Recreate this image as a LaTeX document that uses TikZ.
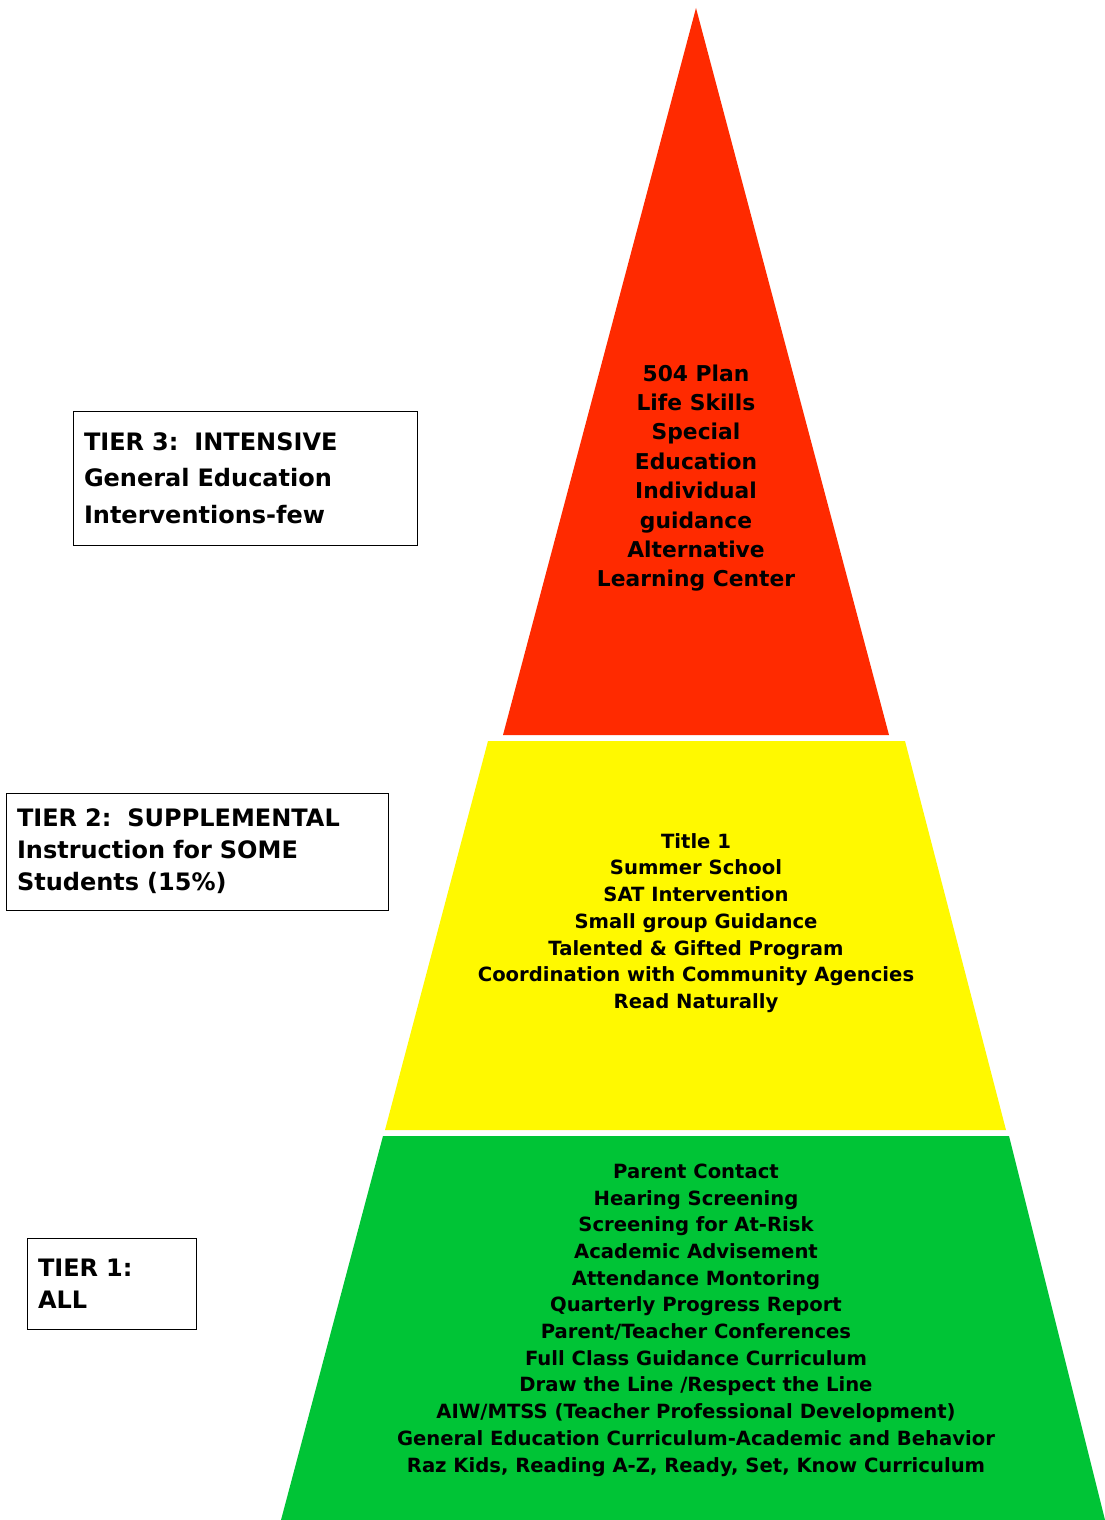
\documentclass[tikz,border=0pt]{standalone}
\usepackage{fontspec}
\setmainfont{DejaVu Sans}
\definecolor{tred}{HTML}{FF2A00}
\definecolor{tyellow}{HTML}{FFF900}
\definecolor{tgreen}{HTML}{00C436}
\begin{document}
\begin{tikzpicture}[x=1pt,y=-1pt,
  tierbox/.style={draw=black,line width=1pt,fill=white,inner xsep=11pt,inner ysep=0pt,align=left,anchor=center},
  redtext/.style={align=center,font=\bfseries\fontsize{21.8}{29.4}\selectfont},
  listtext/.style={align=center,font=\bfseries\fontsize{19.6}{26.7}\selectfont}]
\useasboundingbox (0,0) rectangle (1105,1520);
% pyramid tiers
\fill[tred] (696,8) -- (889,735) -- (503,735) -- cycle;
\fill[tyellow] (488,741) -- (905,741) -- (1006,1130) -- (385,1130) -- cycle;
\fill[tgreen] (383,1136) -- (1009,1136) -- (1105,1520) -- (281,1520) -- cycle;
% tier contents
\node[redtext] (t3list) at (696,478) {504 Plan\\Life Skills\\Special\\Education\\Individual\\guidance\\Alternative\\Learning Center};
\node[listtext] (t2list) at (696,923) {Title 1\\Summer School\\SAT Intervention\\Small group Guidance\\Talented \& Gifted Program\\Coordination with Community Agencies\\Read Naturally};
\node[listtext] (t1list) at (696,1320) {Parent Contact\\Hearing Screening\\Screening for At-Risk\\Academic Advisement\\Attendance Montoring\\Quarterly Progress Report\\Parent/Teacher Conferences\\Full Class Guidance Curriculum\\Draw the Line /Respect the Line\\AIW/MTSS (Teacher Professional Development)\\General Education Curriculum-Academic and Behavior\\Raz Kids, Reading A-Z, Ready, Set, Know Curriculum};
% tier labels
\node[tierbox,minimum width=344pt,minimum height=134pt,text width=322pt,font=\bfseries\fontsize{24}{36.5}\selectfont] (t3box) at (245,478) {TIER 3:\ \ INTENSIVE\\General Education\\Interventions-few};
\node[tierbox,minimum width=382pt,minimum height=117pt,text width=360pt,font=\bfseries\fontsize{24}{32}\selectfont] (t2box) at (197,851.5) {TIER 2:\ \ SUPPLEMENTAL\\Instruction for SOME\\Students (15\%)};
\node[tierbox,minimum width=169pt,minimum height=91pt,text width=147pt,font=\bfseries\fontsize{24}{32}\selectfont] (t1box) at (111.5,1283.5) {TIER 1:\\ALL};
\end{tikzpicture}
\end{document}
